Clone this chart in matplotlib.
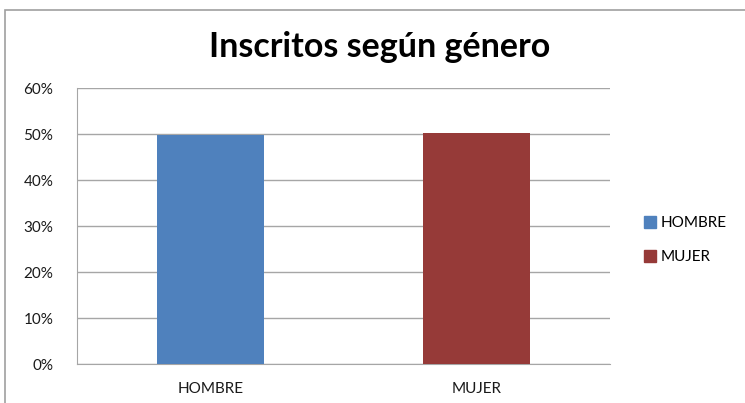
import matplotlib
matplotlib.use("Agg")
import matplotlib.pyplot as plt
from matplotlib.patches import Rectangle, Patch
from matplotlib.ticker import PercentFormatter

categories = ["HOMBRE", "MUJER"]
values = [49.7, 50.3]
colors = ["#4F81BD", "#963A38"]
yticks = [0, 10, 20, 30, 40, 50, 60]

plt.rcParams["font.family"] = ["Lato", "DejaVu Sans"]

fig = plt.figure(figsize=(7.45, 4.03), dpi=100)

# outer chart border
fig.patches.append(Rectangle((5 / 745, -0.05), 2.0, 1.05 - 10 / 403,
                             transform=fig.transFigure, fill=False,
                             edgecolor="#A0A0A0", linewidth=1.2))

ax = fig.add_axes([77 / 745, 1 - 364 / 403, 533 / 745, 276 / 403])
ax.bar(range(len(categories)), values, width=0.4, color=colors, zorder=3)

ax.set_xlim(-0.5, 1.5)
ax.set_ylim(0, 60)
ax.set_yticks(yticks)
ax.yaxis.set_major_formatter(PercentFormatter(decimals=0))
ax.set_xticks(range(len(categories)))
ax.set_xticklabels(categories)
ax.grid(axis="y", color="#A6A6A6", linewidth=1.0, zorder=0)
for s in ["top", "right"]:
    ax.spines[s].set_visible(False)
for s in ["left", "bottom"]:
    ax.spines[s].set_color("#A6A6A6")
ax.tick_params(axis="both", length=0, labelsize=11, colors="#1a1a1a")
ax.tick_params(axis="y", pad=17)
ax.tick_params(axis="x", pad=13)

fig.text(380 / 745, 1 - 47 / 403, "Inscritos según género", ha="center",
         va="center", fontsize=24.5, fontweight="bold")

handles = [Patch(color=c) for c in colors]
fig.legend(handles, categories, loc="center left",
           bbox_to_anchor=(630 / 745, 1 - 240 / 403), frameon=False,
           fontsize=11, handlelength=0.8, handleheight=0.8,
           handletextpad=0.3, labelspacing=1.3)

fig.savefig("out.png", dpi=100)
